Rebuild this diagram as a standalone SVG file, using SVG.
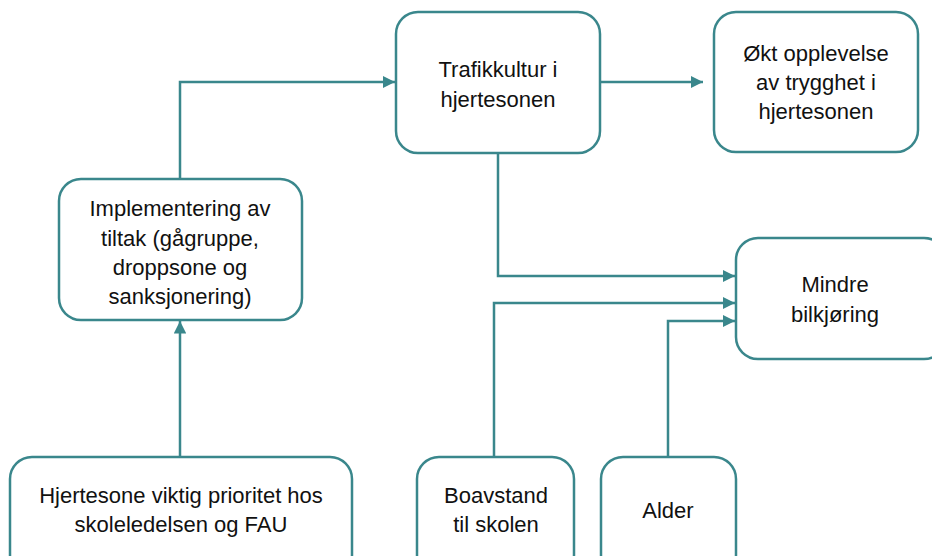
<svg xmlns="http://www.w3.org/2000/svg" width="932" height="556" viewBox="0 0 932 556">
<style>
.box{fill:#fff;stroke:#3A878C;stroke-width:2.5}
.t{font-family:"Liberation Sans",Arial,sans-serif;font-size:22px;fill:#111;text-anchor:middle}
.c{fill:none;stroke:#3A878C;stroke-width:2.5}
</style>
<defs>
<marker id="ah" viewBox="0 0 10 10" refX="10" refY="5" markerWidth="5" markerHeight="5" orient="auto" markerUnits="strokeWidth">
<path d="M0,0 L10,5 L0,10 z" fill="#3A878C"/>
</marker>
</defs>
<rect width="932" height="556" fill="#fff"/>
<g id="connectors">
<path class="c" d="M180,179 V82 H395" marker-end="url(#ah)"/>
<path class="c" d="M600,82 H703" marker-end="url(#ah)"/>
<path class="c" d="M180,457 V321" marker-end="url(#ah)"/>
<path class="c" d="M498,153 V276 H735" marker-end="url(#ah)"/>
<path class="c" d="M494,457 V303 H735" marker-end="url(#ah)"/>
<path class="c" d="M668,457 V321 H735" marker-end="url(#ah)"/>
</g>
<g id="trafikkultur">
<rect class="box" x="396" y="12" width="204" height="141" rx="22"/>
<text class="t" x="498" y="77">Trafikkultur i</text>
<text class="t" x="498" y="107">hjertesonen</text>
</g>
<g id="okt">
<rect class="box" x="714" y="12" width="204" height="140" rx="22"/>
<text class="t" x="816" y="61">Økt opplevelse</text>
<text class="t" x="816" y="90">av trygghet i</text>
<text class="t" x="816" y="119">hjertesonen</text>
</g>
<g id="implementering">
<rect class="box" x="59" y="179" width="243" height="141" rx="22"/>
<text class="t" x="180" y="216">Implementering av</text>
<text class="t" x="180" y="246">tiltak (gågruppe,</text>
<text class="t" x="180" y="275">droppsone og</text>
<text class="t" x="180" y="304">sanksjonering)</text>
</g>
<g id="mindre">
<rect class="box" x="736" y="238" width="210" height="121" rx="22"/>
<text class="t" x="835" y="292">Mindre</text>
<text class="t" x="835" y="322">bilkjøring</text>
</g>
<g id="hjertesone">
<rect class="box" x="10" y="457" width="342" height="120" rx="22"/>
<text class="t" x="181" y="503">Hjertesone viktig prioritet hos</text>
<text class="t" x="181" y="532">skoleledelsen og FAU</text>
</g>
<g id="boavstand">
<rect class="box" x="417" y="457" width="157" height="120" rx="22"/>
<text class="t" x="496" y="503">Boavstand</text>
<text class="t" x="496" y="532">til skolen</text>
</g>
<g id="alder">
<rect class="box" x="601" y="457" width="135" height="120" rx="22"/>
<text class="t" x="668" y="518">Alder</text>
</g>
</svg>
